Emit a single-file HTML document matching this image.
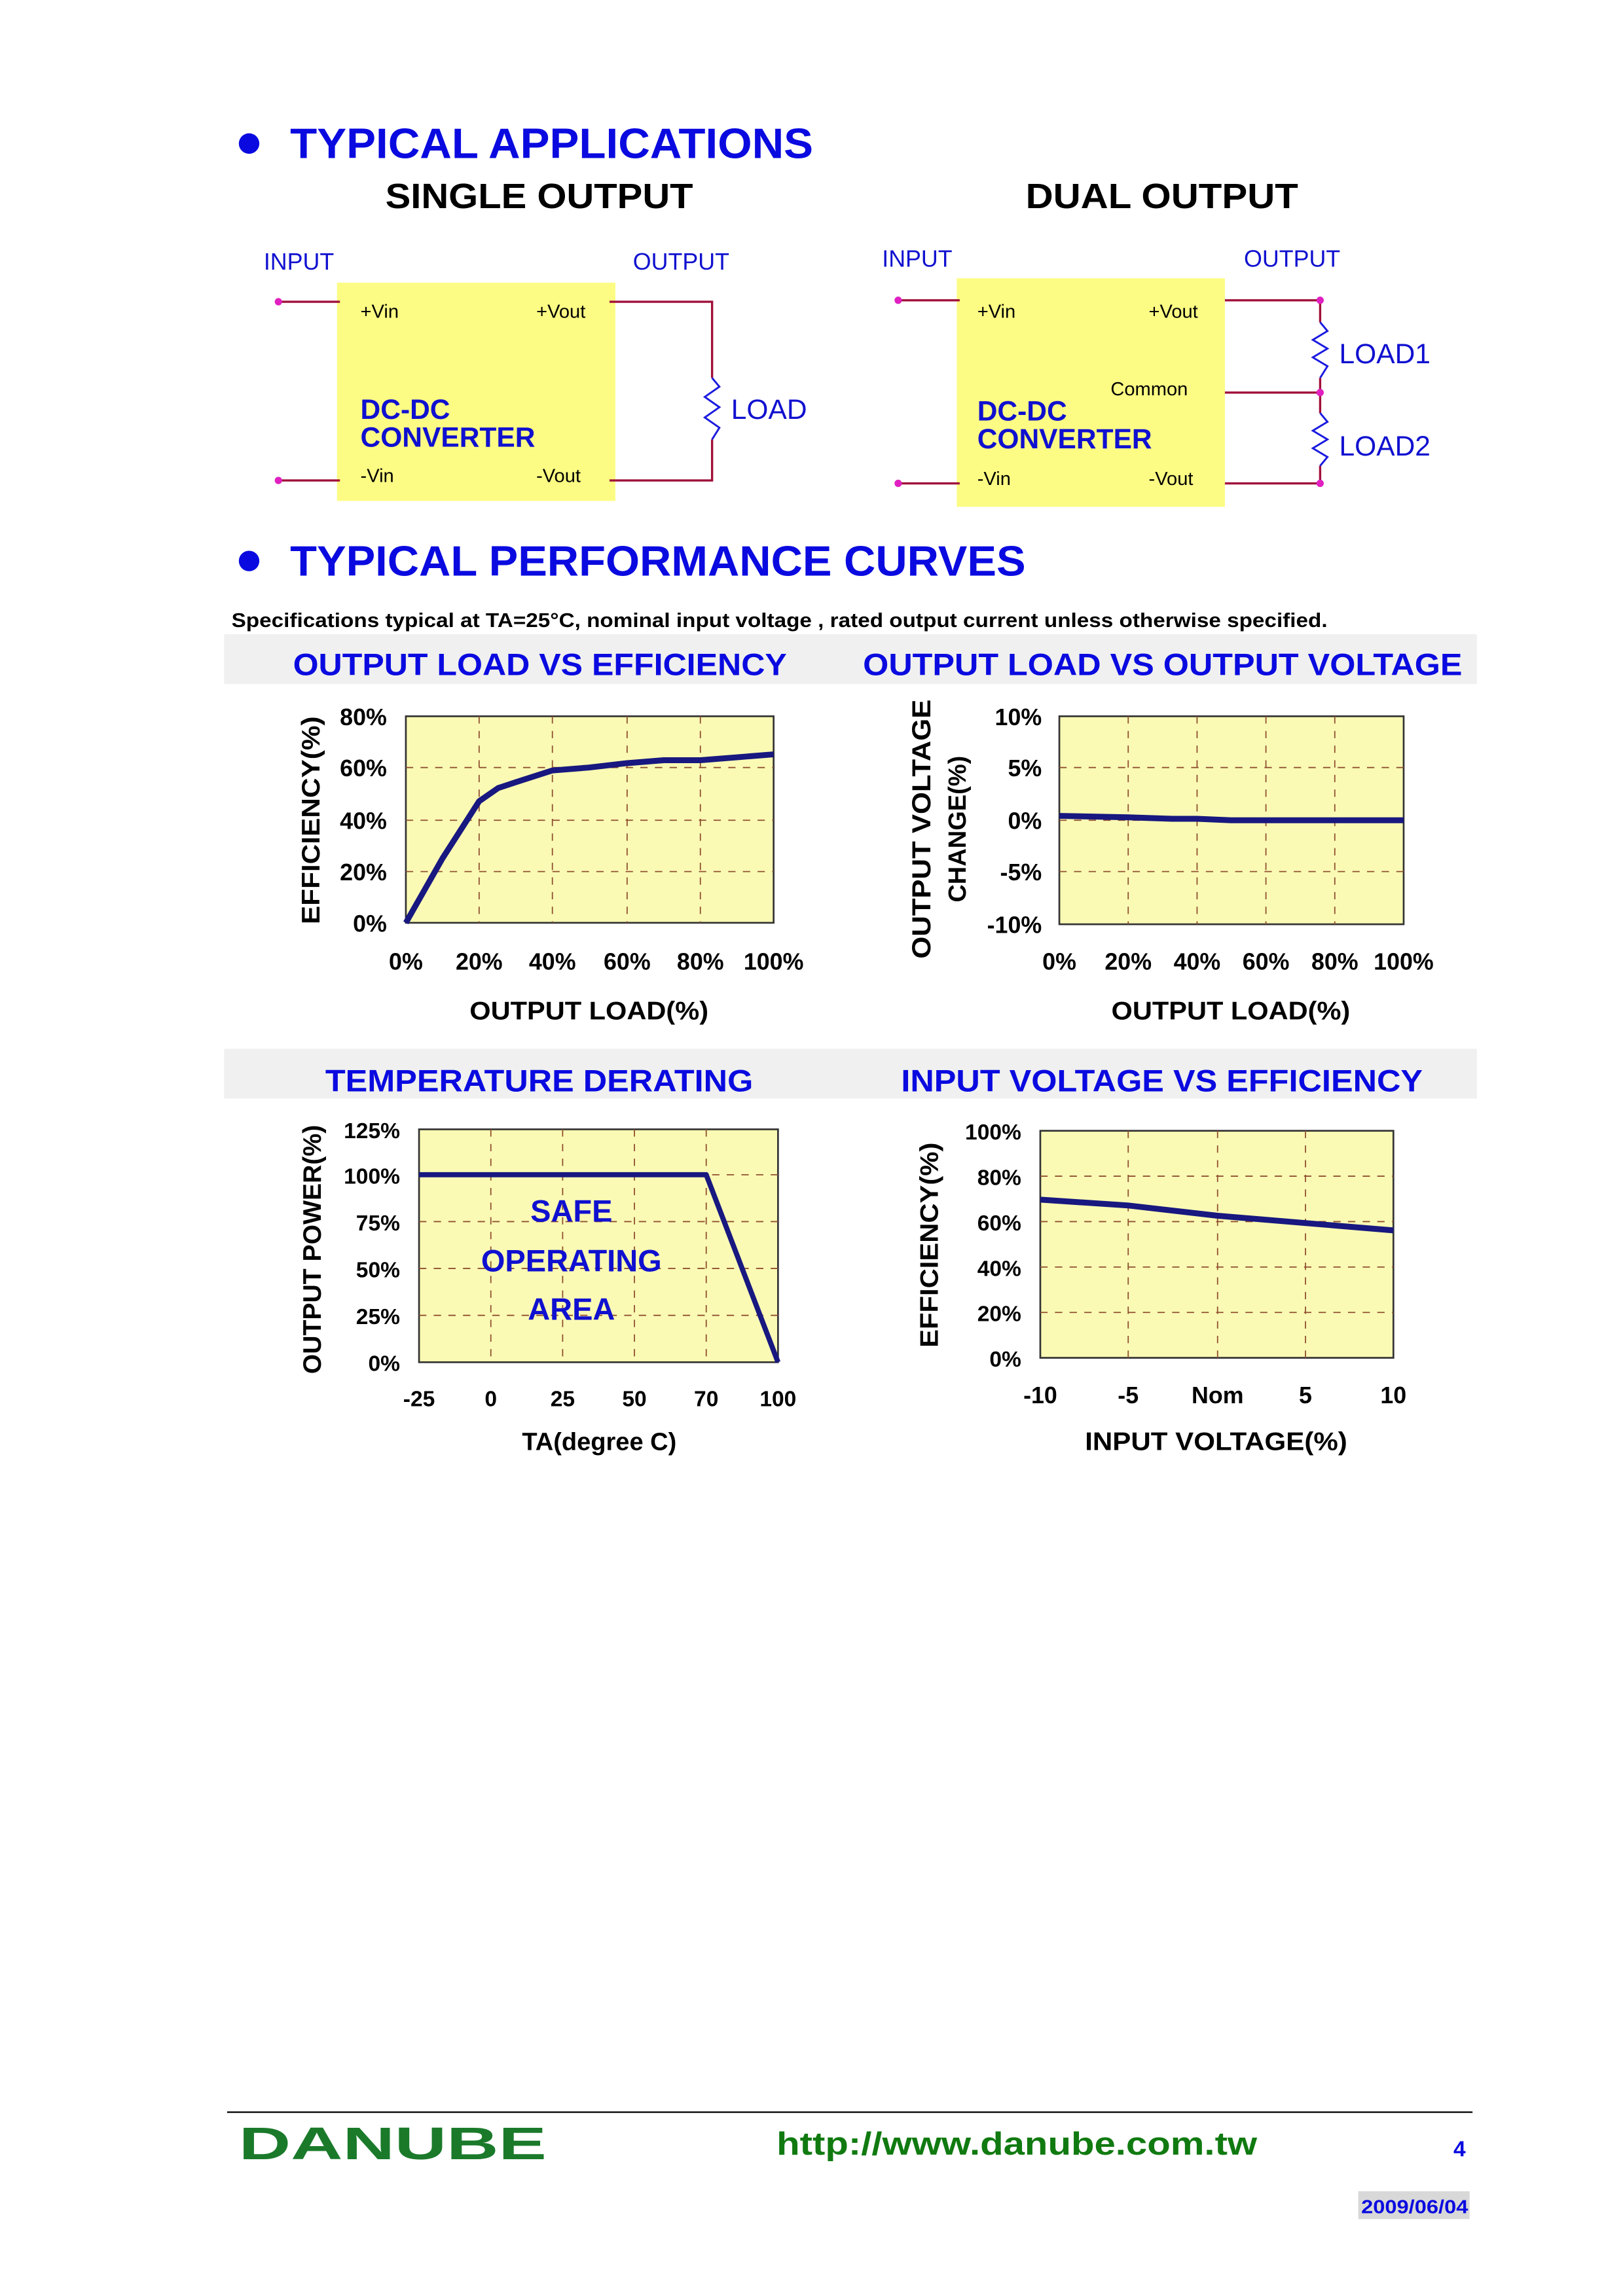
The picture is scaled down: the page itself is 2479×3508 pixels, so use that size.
<!DOCTYPE html>
<html><head><meta charset="utf-8"><style>html,body{margin:0;padding:0;background:#fff}svg{display:block}</style></head><body>
<svg width="2479" height="3508" viewBox="0 0 1107.7 1567.5" xmlns="http://www.w3.org/2000/svg" font-family="Liberation Sans, Arial, sans-serif">
<rect width="1107.7" height="1567.5" fill="#fff"/>
<circle cx="170" cy="98" r="7" fill="#0a0ae0"/>
<text x="198" y="108" font-size="29" font-weight="bold" fill="#0a0ae0" textLength="357" lengthAdjust="spacingAndGlyphs">TYPICAL APPLICATIONS</text>
<text x="263" y="142" font-size="24" font-weight="bold" fill="#000" textLength="210" lengthAdjust="spacingAndGlyphs">SINGLE OUTPUT</text>
<text x="700" y="142" font-size="24" font-weight="bold" fill="#000" textLength="186" lengthAdjust="spacingAndGlyphs">DUAL OUTPUT</text>

<text x="180" y="184" font-size="16" fill="#1010d0">INPUT</text>
<text x="432" y="184" font-size="16" fill="#1010d0">OUTPUT</text>
<rect x="230" y="193" width="190" height="149" fill="#fcfc84"/>
<g stroke="#a0103a" stroke-width="1.5" fill="none">
<path d="M190 206H232M190 328H232M416 206H486V258M486 300V328H416"/>
</g>
<path d="M486 258l5 6-10 7 10 7-10 7 10 7-5 8" stroke="#1a1ae0" stroke-width="1.3" fill="none"/>
<circle cx="190" cy="206" r="2.5" fill="#e020c0"/><circle cx="190" cy="328" r="2.5" fill="#e020c0"/>
<g font-size="13" fill="#000"><text x="246" y="217">+Vin</text><text x="366" y="217">+Vout</text><text x="246" y="329">-Vin</text><text x="366" y="329">-Vout</text></g>
<g font-size="19" font-weight="bold" fill="#1010d0"><text x="246" y="286">DC-DC</text><text x="246" y="305">CONVERTER</text></g>
<text x="499" y="286" font-size="19" fill="#1010d0">LOAD</text>

<text x="602" y="182" font-size="16" fill="#1010d0">INPUT</text>
<text x="849" y="182" font-size="16" fill="#1010d0">OUTPUT</text>
<rect x="653" y="190" width="183" height="156" fill="#fcfc84"/>
<g stroke="#a0103a" stroke-width="1.5" fill="none">
<path d="M613 205H655M613 330H655M836 205H901V220M901 258V282M901 318V330H836M836 268H901"/>
</g>
<path d="M901 220l5 6-10 6 10 6-10 6 10 6-5 8M901 282l5 6-10 6 10 6-10 6 10 6-5 6" stroke="#1a1ae0" stroke-width="1.3" fill="none"/>
<g fill="#e020c0"><circle cx="613" cy="205" r="2.5"/><circle cx="613" cy="330" r="2.5"/><circle cx="901" cy="205" r="2.5"/><circle cx="901" cy="268" r="2.5"/><circle cx="901" cy="330" r="2.5"/></g>
<g font-size="13" fill="#000"><text x="667" y="217">+Vin</text><text x="784" y="217">+Vout</text><text x="758" y="270">Common</text><text x="667" y="331">-Vin</text><text x="784" y="331">-Vout</text></g>
<g font-size="19" font-weight="bold" fill="#1010d0"><text x="667" y="287">DC-DC</text><text x="667" y="306">CONVERTER</text></g>
<g font-size="19" fill="#1010d0"><text x="914" y="248">LOAD1</text><text x="914" y="311">LOAD2</text></g>

<circle cx="170" cy="383" r="7" fill="#0a0ae0"/>
<text x="198" y="393" font-size="29" font-weight="bold" fill="#0a0ae0" textLength="502" lengthAdjust="spacingAndGlyphs">TYPICAL PERFORMANCE CURVES</text>
<text x="158" y="428" font-size="13.5" font-weight="bold" fill="#000" textLength="748" lengthAdjust="spacingAndGlyphs">Specifications typical at TA=25°C, nominal input voltage , rated output current unless otherwise specified.</text>

<rect x="153" y="433" width="855" height="34" fill="#f0f0f0"/>
<g font-size="21" font-weight="bold" fill="#0a0ae0">
<text x="200" y="461" textLength="337" lengthAdjust="spacingAndGlyphs">OUTPUT LOAD VS EFFICIENCY</text>
<text x="589" y="461" textLength="409" lengthAdjust="spacingAndGlyphs">OUTPUT LOAD VS OUTPUT VOLTAGE</text>
</g>
<rect x="153" y="716" width="855" height="34" fill="#f0f0f0"/>
<g font-size="21" font-weight="bold" fill="#0a0ae0">
<text x="222" y="745" textLength="292" lengthAdjust="spacingAndGlyphs">TEMPERATURE DERATING</text>
<text x="615" y="745" textLength="356" lengthAdjust="spacingAndGlyphs">INPUT VOLTAGE VS EFFICIENCY</text>
</g>

<rect x="277" y="489" width="251" height="141" fill="#fafab4" stroke="#333" stroke-width="1.2"/>
<g stroke="#905030" stroke-width="0.8" stroke-dasharray="5,5" fill="none">
<path d="M327 489V630M377 489V630M428 489V630M478 489V630M277 524H528M277 560H528M277 595H528"/>
</g>
<polyline points="277,630 302,586 327,547 340,538 352,534 377,526 402,524 428,521 453,519 478,519 503,517 528,515" fill="none" stroke="#181880" stroke-width="4" stroke-linejoin="round"/>
<g font-size="16" font-weight="bold" fill="#000" text-anchor="end">
<text x="264" y="495">80%</text><text x="264" y="530">60%</text><text x="264" y="566">40%</text><text x="264" y="601">20%</text><text x="264" y="636">0%</text></g>
<g font-size="16" font-weight="bold" fill="#000" text-anchor="middle">
<text x="277" y="662">0%</text><text x="327" y="662">20%</text><text x="377" y="662">40%</text><text x="428" y="662">60%</text><text x="478" y="662">80%</text><text x="528" y="662">100%</text>
<text x="402" y="696" font-size="17.5" textLength="163" lengthAdjust="spacingAndGlyphs">OUTPUT LOAD(%)</text>
<text transform="translate(218,560) rotate(-90)" font-size="17.5" textLength="142" lengthAdjust="spacingAndGlyphs">EFFICIENCY(%)</text>
</g>

<rect x="723" y="489" width="235" height="142" fill="#fafab4" stroke="#333" stroke-width="1.2"/>
<g stroke="#905030" stroke-width="0.8" stroke-dasharray="5,5" fill="none">
<path d="M770 489V631M817 489V631M864 489V631M911 489V631M723 524H958M723 560H958M723 595H958"/>
</g>
<polyline points="723,557 770,558 800,559 817,559 840,560 958,560" fill="none" stroke="#181880" stroke-width="4"/>
<g font-size="16" font-weight="bold" fill="#000" text-anchor="end">
<text x="711" y="495">10%</text><text x="711" y="530">5%</text><text x="711" y="566">0%</text><text x="711" y="601">-5%</text><text x="711" y="637">-10%</text></g>
<g font-size="16" font-weight="bold" fill="#000" text-anchor="middle">
<text x="723" y="662">0%</text><text x="770" y="662">20%</text><text x="817" y="662">40%</text><text x="864" y="662">60%</text><text x="911" y="662">80%</text><text x="958" y="662">100%</text>
<text x="840" y="696" font-size="17.5" textLength="163" lengthAdjust="spacingAndGlyphs">OUTPUT LOAD(%)</text>
<text transform="translate(635,566) rotate(-90)" font-size="18" textLength="177" lengthAdjust="spacingAndGlyphs">OUTPUT VOLTAGE</text>
<text transform="translate(659,566) rotate(-90)" font-size="17">CHANGE(%)</text>
</g>

<rect x="286" y="771" width="245" height="159" fill="#fafab4" stroke="#333" stroke-width="1.2"/>
<g stroke="#905030" stroke-width="0.8" stroke-dasharray="5,5" fill="none">
<path d="M335 771V930M384 771V930M433 771V930M482 771V930M286 802H531M286 834H531M286 866H531M286 898H531"/>
</g>
<polyline points="286,802 482,802 531,930" fill="none" stroke="#181880" stroke-width="3.5" stroke-linejoin="round"/>
<g font-size="21" font-weight="bold" fill="#1010d0" text-anchor="middle">
<text x="390" y="834">SAFE</text><text x="390" y="868">OPERATING</text><text x="390" y="901">AREA</text></g>
<g font-size="15" font-weight="bold" fill="#000" text-anchor="end">
<text x="273" y="777">125%</text><text x="273" y="808">100%</text><text x="273" y="840">75%</text><text x="273" y="872">50%</text><text x="273" y="904">25%</text><text x="273" y="936">0%</text></g>
<g font-size="15" font-weight="bold" fill="#000" text-anchor="middle">
<text x="286" y="960">-25</text><text x="335" y="960">0</text><text x="384" y="960">25</text><text x="433" y="960">50</text><text x="482" y="960">70</text><text x="531" y="960">100</text>
<text x="409" y="990" font-size="17">TA(degree C)</text>
<text transform="translate(219,853) rotate(-90)" font-size="17.5" textLength="170" lengthAdjust="spacingAndGlyphs">OUTPUT POWER(%)</text>
</g>

<rect x="710" y="772" width="241" height="155" fill="#fafab4" stroke="#333" stroke-width="1.2"/>
<g stroke="#905030" stroke-width="0.8" stroke-dasharray="5,5" fill="none">
<path d="M770 772V927M831 772V927M891 772V927M710 803H951M710 834H951M710 865H951M710 896H951"/>
</g>
<polyline points="710,819 770,823 831,830 891,835 951,840" fill="none" stroke="#181880" stroke-width="4"/>
<g font-size="15" font-weight="bold" fill="#000" text-anchor="end">
<text x="697" y="778">100%</text><text x="697" y="809">80%</text><text x="697" y="840">60%</text><text x="697" y="871">40%</text><text x="697" y="902">20%</text><text x="697" y="933">0%</text></g>
<g font-size="16" font-weight="bold" fill="#000" text-anchor="middle">
<text x="710" y="958">-10</text><text x="770" y="958">-5</text><text x="831" y="958">Nom</text><text x="891" y="958">5</text><text x="951" y="958">10</text>
<text x="830" y="990" font-size="17.5" textLength="179" lengthAdjust="spacingAndGlyphs">INPUT VOLTAGE(%)</text>
<text transform="translate(640,850) rotate(-90)" font-size="17.5" textLength="140" lengthAdjust="spacingAndGlyphs">EFFICIENCY(%)</text>
</g>

<line x1="155" y1="1442" x2="1005" y2="1442" stroke="#000" stroke-width="1"/>
<text x="163" y="1474" font-size="31" font-weight="bold" fill="#1a7a2a" textLength="210" lengthAdjust="spacingAndGlyphs">DANUBE</text>
<text x="530" y="1471" font-size="22" font-weight="bold" fill="#107a10" textLength="328" lengthAdjust="spacingAndGlyphs">http://www.danube.com.tw</text>
<text x="992" y="1472" font-size="15" font-weight="bold" fill="#0a0ae0">4</text>
<rect x="927" y="1496" width="76" height="19" fill="#d8d8d8"/>
<text x="929" y="1511" font-size="13" font-weight="bold" fill="#0a0ae0" textLength="73" lengthAdjust="spacingAndGlyphs">2009/06/04</text>
</svg>
</body></html>
